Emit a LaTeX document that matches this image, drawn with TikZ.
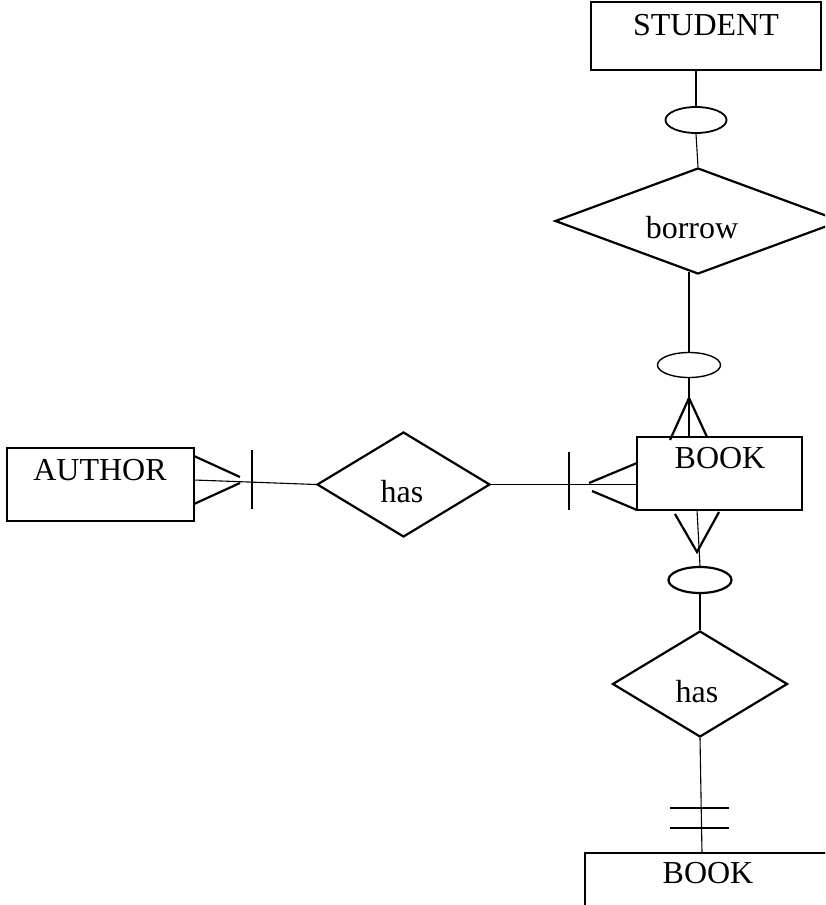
\documentclass[tikz,border=0pt]{standalone}
\usepackage{fontspec}
\setmainfont{Liberation Serif}
\usetikzlibrary{shapes.geometric}
\begin{document}
\begin{tikzpicture}[x=1pt,y=-1pt,
  entity/.style={draw, rectangle, line width=2pt, inner sep=0pt},
  rel/.style={draw, diamond, line width=2.2pt, inner sep=0pt},
  opt/.style={draw, ellipse, line width=1.8pt, inner sep=0pt},
  txt/.style={font=\fontsize{32}{38}\selectfont, inner sep=0pt},
  conn/.style={line width=1.1pt},
  foot/.style={line width=2.2pt},
  bar/.style={line width=2.8pt}]
\useasboundingbox (0,0) rectangle (825,905);
\clip (0,0) rectangle (825,905);

% entities
\node[entity, minimum width=230pt, minimum height=68pt] (student) at (706,36) {};
\node[txt] (studentT) at (706,25) {STUDENT};
\node[entity, minimum width=165pt, minimum height=73pt] (book) at (719.5,473.5) {};
\node[txt] (bookT) at (720,458) {BOOK};
\node[entity, minimum width=187pt, minimum height=73pt] (author) at (100.5,484.5) {};
\node[txt] (authorT) at (100,470) {AUTHOR};
\node[entity, minimum width=300pt, minimum height=74pt] (booktwo) at (735,890) {};
\node[txt] (booktwoT) at (708,873) {BOOK};

% relationships
\node[rel, minimum width=286pt, minimum height=106pt] (borrow) at (698,221) {};
\node[txt] (borrowT) at (692,228) {borrow};
\node[rel, minimum width=173pt, minimum height=105pt] (hasone) at (403.5,484.5) {};
\node[txt] (hasoneT) at (402,492) {has};
\node[rel, minimum width=175pt, minimum height=106pt] (hastwo) at (700,684) {};
\node[txt] (hastwoT) at (697,692) {has};

% optionality ellipses
\node[opt, minimum width=61pt, minimum height=26pt] (eone) at (696,120) {};
\node[opt, minimum width=63pt, minimum height=25pt, line width=1.4pt] (etwo) at (689,365) {};
\node[opt, minimum width=63pt, minimum height=26pt, line width=2.2pt] (ethree) at (700,580) {};

% connectors
\draw[conn] (student.south -| eone) -- (eone.north);
\draw[conn] (eone.south) -- (borrow.north);
\coordinate (borrowout) at (689,272);
\draw[conn] (borrowout) -- (etwo.north);
\coordinate (bookin) at (689,437);
\draw[conn] (etwo.south) -- (bookin);
\coordinate (cfa) at (689,398);
\draw[foot] (670,440) -- (cfa) -- (707,437);

\coordinate (authorout) at (194,480);
\draw[conn] (authorout) -- (hasone.west);
\draw[foot] (194,456) -- (240,477);
\draw[foot] (194,504) -- (240,483);
\draw[bar] (252,450) -- (252,509);

\draw[conn] (hasone.east) -- (book.west |- hasone.east);
\draw[foot] (637,463) -- (589,483);
\draw[foot] (637,510) -- (592,491);
\draw[bar] (569,452) -- (569,510);

\coordinate (bookout) at (697,510);
\draw[conn] (bookout) -- (ethree.north);
\draw[foot] (675,514) -- (697,552) -- (719,512);
\draw[conn] (ethree.south) -- (hastwo.north);
\coordinate (booktwoin) at (702,853);
\draw[conn] (hastwo.south) -- (booktwoin);
\draw[bar] (670,808) -- (729,808);
\draw[bar] (670,828) -- (729,828);
\end{tikzpicture}
\end{document}
